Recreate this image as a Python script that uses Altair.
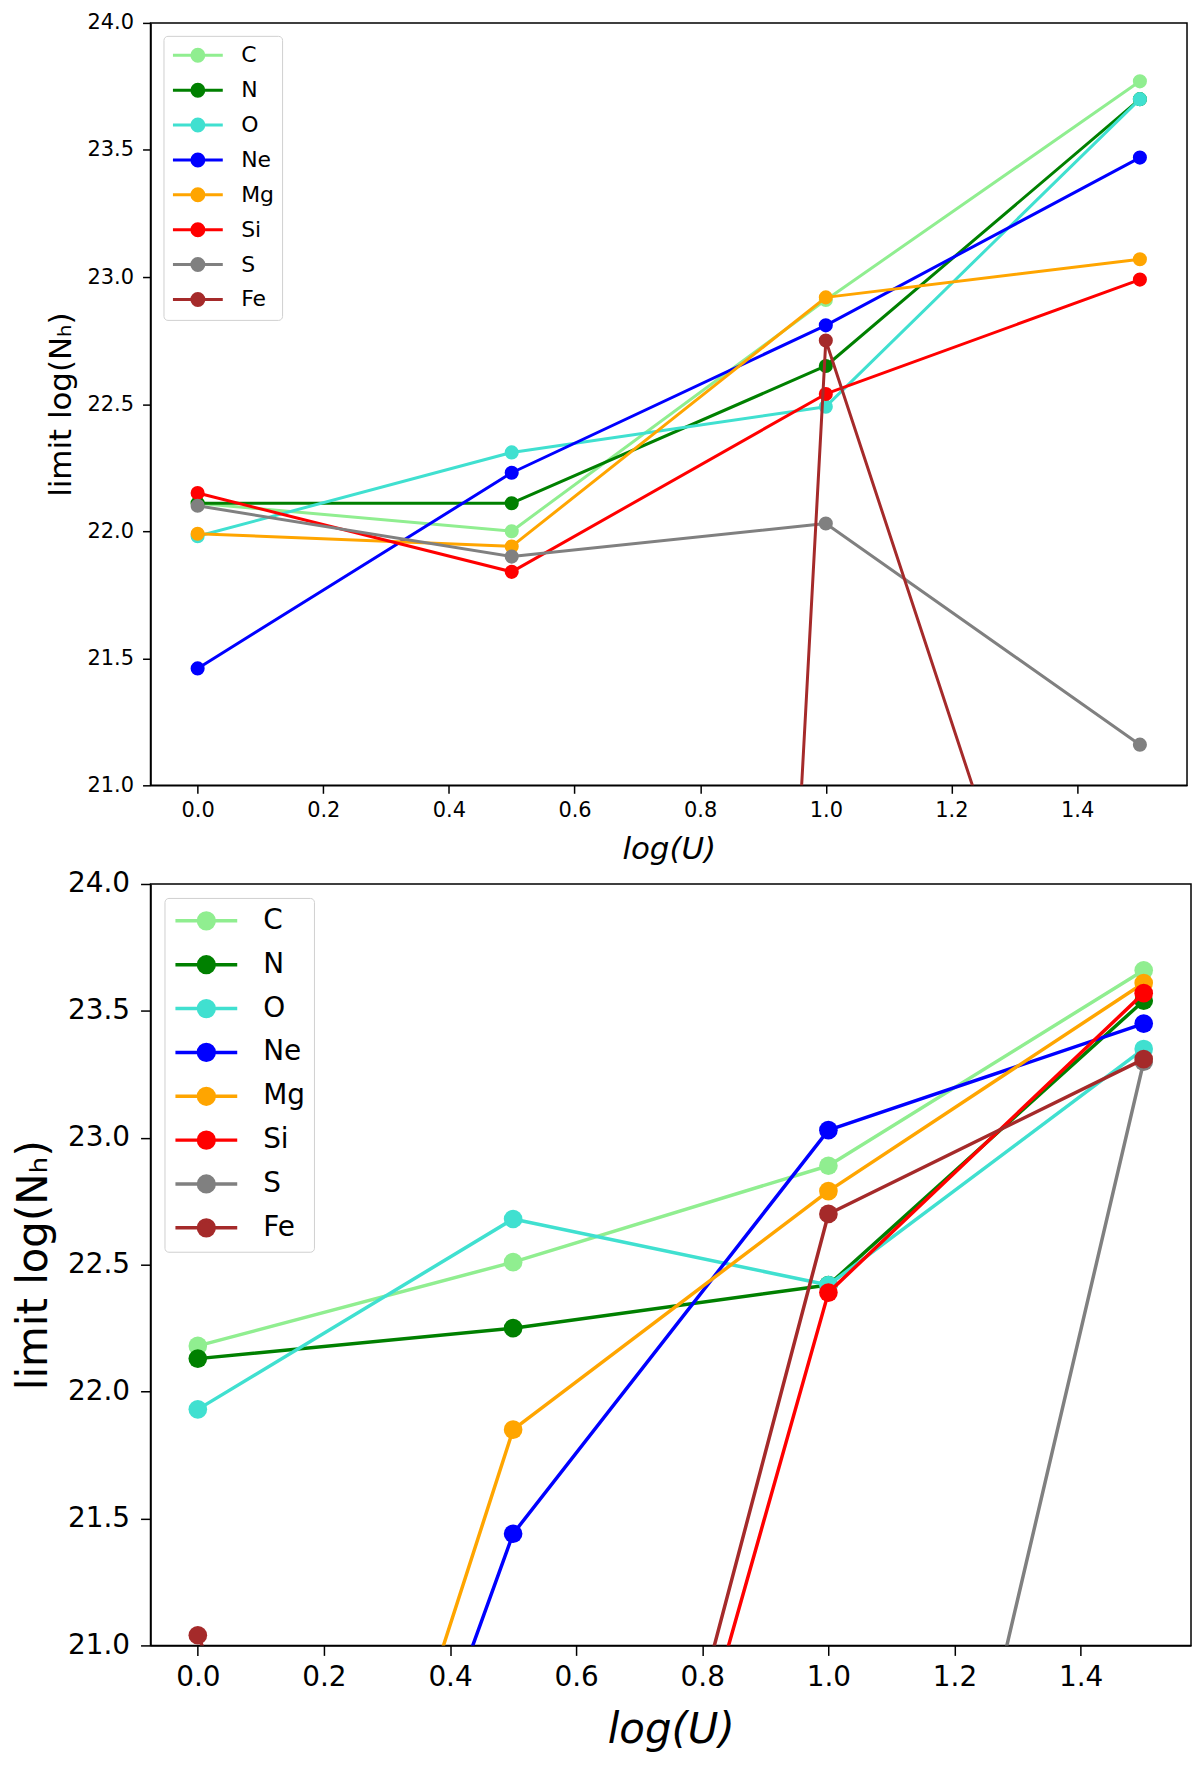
import altair as alt
import pandas as pd

x_vals = [0.0, 0.5, 1.0, 1.5]
elements = ["C", "N", "O", "Ne", "Mg", "Si", "S", "Fe"]
colors = ["#90EE90", "#008000", "#40E0D0", "#0000FF", "#FFA500", "#FF0000", "#808080", "#A52A2A"]

# top panel values (limit log(N_H)) at log(U) = 0, 0.5, 1.0, 1.5
top_C = [22.11, 22.00, 22.91, 23.77]
top_N = [22.11, 22.11, 22.65, 23.70]
top_O = [21.98, 22.31, 22.49, 23.70]
top_Ne = [21.46, 22.23, 22.81, 23.47]
top_Mg = [21.99, 21.94, 22.92, 23.07]
top_Si = [22.15, 21.84, 22.54, 22.99]
top_S = [22.10, 21.90, 22.03, 21.16]
top_Fe = [0.0, 0.0, 22.75, 19.0]

# bottom panel values
bot_C = [22.18, 22.51, 22.89, 23.66]
bot_N = [22.13, 22.25, 22.42, 23.54]
bot_O = [21.93, 22.68, 22.42, 23.35]
bot_Ne = [18.0, 21.44, 23.03, 23.45]
bot_Mg = [18.0, 21.85, 22.79, 23.61]
bot_Si = [18.0, 18.0, 22.39, 23.57]
bot_S = [18.0, 18.0, 18.0, 23.30]
bot_Fe = [21.04, 18.0, 22.70, 23.31]

x_ticks = [0.0, 0.2, 0.4, 0.6, 0.8, 1.0, 1.2, 1.4]
y_ticks = [21.0, 21.5, 22.0, 22.5, 23.0, 23.5, 24.0]

top_series = [top_C, top_N, top_O, top_Ne, top_Mg, top_Si, top_S, top_Fe]
bot_series = [bot_C, bot_N, bot_O, bot_Ne, bot_Mg, bot_Si, bot_S, bot_Fe]


def make_df(series):
    rows = []
    for el, vals in zip(elements, series):
        for xv, yv in zip(x_vals, vals):
            rows.append({"logU": xv, "nh": yv, "el": el})
    return pd.DataFrame(rows)


FONT = "DejaVu Sans"


def legend_path(s_len_units, r):
    c = (s_len_units - 2) / 2.0
    end = s_len_units - 1
    return (f"M-1,0L{end:.3f},0"
            f"M{c - r:.3f},0A{r},{r},0,1,0,{c + r:.3f},0A{r},{r},0,1,0,{c - r:.3f},0Z")


def panel(series, w, h, sty):
    df = make_df(series)
    color = alt.Color(
        "el:N",
        scale=alt.Scale(domain=elements, range=colors),
        legend=alt.Legend(
            title=None,
            orient="top-left",
            offset=sty["loff"],
            symbolType=sty["lpath"],
            symbolSize=sty["lsize"],
            symbolStrokeWidth=sty["lw"],
            symbolOpacity=1,
            labelFont=FONT,
            labelFontSize=sty["lfs"],
            labelColor="black",
            labelOffset=sty["lab_off"],
            rowPadding=sty["rowpad"],
            padding=sty["lpad"],
            strokeColor="#d0d0d0",
            fillColor="white",
            cornerRadius=4,
        ),
    )
    x = alt.X(
        "logU:Q",
        scale=alt.Scale(domain=[-0.075, 1.575], nice=False, zero=False),
        axis=alt.Axis(
            values=x_ticks, format=".1f", title="log(U)", titleFontStyle="italic",
            titleFontWeight="normal", titleFont=FONT, labelFont=FONT,
            labelFontSize=sty["tfs"], titleFontSize=sty["xtitle"], grid=False,
            tickSize=sty["tick"], tickWidth=1.5, tickColor="black", domainColor="black",
            domainWidth=1.5, labelColor="black", titleColor="black",
            labelPadding=sty["xlp"], titlePadding=sty["xtp"],
        ),
    )
    y = alt.Y(
        "nh:Q",
        scale=alt.Scale(domain=[21, 24], nice=False, zero=False),
        axis=alt.Axis(
            values=y_ticks, format=".1f", title="limit log(N\u2095)",
            titleFontWeight="normal", titleFont=FONT, labelFont=FONT,
            labelFontSize=sty["tfs"], titleFontSize=sty["ytitle"], grid=False,
            tickSize=sty["tick"], tickWidth=1.5, tickColor="black", domainColor="black",
            domainWidth=1.5, labelColor="black", titleColor="black",
            labelPadding=sty["ylp"], titlePadding=sty["ytp"],
        ),
    )
    layers = []
    for el in elements:
        base = alt.Chart(df).transform_filter(alt.datum.el == el)
        layers.append(base.mark_line(clip=True, strokeWidth=sty["lw"], strokeJoin="round")
                      .encode(x=x, y=y, color=color))
        layers.append(base.mark_point(clip=True, filled=True, opacity=1, size=sty["ms"])
                      .encode(x=x, y=y, color=color))
    return alt.layer(*layers).properties(width=w, height=h)


top_style = dict(lw=3.0, ms=200, tfs=21, xtitle=31, ytitle=31, tick=8, xlp=6, xtp=14,
                 ylp=9, ytp=10, loff=13, lpath=legend_path(5.0, 0.6), lsize=400, lfs=22,
                 lab_off=47, rowpad=10, lpad=8)
bot_style = dict(lw=3.5, ms=350, tfs=28, xtitle=42, ytitle=42, tick=10, xlp=8, xtp=18,
                 ylp=11, ytp=12, loff=14, lpath=legend_path(62 / 12.0, 0.66), lsize=576, lfs=28,
                 lab_off=62, rowpad=14, lpad=9)

top = panel(top_series, 1040, 765, top_style)
bot = panel(bot_series, 1044, 764, bot_style)

chart = (
    alt.concat(top, bot, columns=1, spacing=4, align="none")
    .resolve_legend(color="independent")
    .resolve_scale(color="independent")
    .properties(padding={"left": 3, "top": 0, "right": 0, "bottom": 0})
    .configure_view(stroke="black", strokeWidth=1.5)
)

chart.save("out.html", embed_options={"renderer": "svg", "actions": False})
